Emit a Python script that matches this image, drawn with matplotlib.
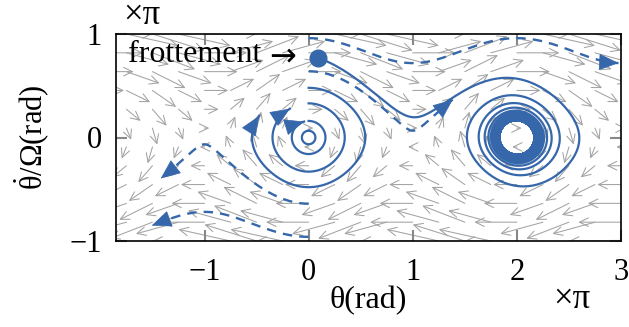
import numpy as np
import matplotlib.pyplot as plt
from matplotlib.patches import FancyArrowPatch

plt.rcParams['font.family'] = ['Liberation Serif', 'DejaVu Serif']
plt.rcParams['mathtext.fontset'] = 'custom'
plt.rcParams['mathtext.rm'] = 'Liberation Serif'
plt.rcParams['mathtext.it'] = 'Liberation Serif:italic'

BLUE = '#3567aa'
GRAY = '#a3a3a3'

# axes / ticks
x_ticks = [-1, 0, 1, 2, 3]
y_ticks = [-1, 0, 1]
x_range = [-1.85, 3.0]
y_range = [-1.0, 1.0]

# grid of the direction field (theta/pi, thetadot/(Omega pi))
field_x = np.linspace(-2, 3, 21)
field_y = np.linspace(-1, 1, 12)
field_scale = 0.5

# trajectory with friction (quadratic drag), starting at the dot
friction_start = [0.087, 0.77]
friction_k = 0.33
friction_step = 0.048
friction_time = 220

# closed orbits without friction (solid), start at theta = 0
closed_y0 = [0.48, 0.33, 0.16, 0.065]
closed_time = [6.4, 6.2, 6.1, 6.4]
closed_arrow = [True, True, True, False]

# open orbits without friction (dashed)
open_x0 = [0.0, 0.0, 0.0, 0.0]
open_y0 = [0.96, 0.64, -0.64, -0.96]
open_xend = [2.97, 1.38, -1.42, -1.5]


def accel(x, y):
    return -np.sin(np.pi * x) / np.pi


def rk4(x, y, h=0.01, tmax=None, xend=None):
    xs, ys = [x], [y]
    t = 0.0
    while True:
        k1x, k1y = y, accel(x, y)
        k2x, k2y = y + h/2*k1y, accel(x + h/2*k1x, y + h/2*k1y)
        k3x, k3y = y + h/2*k2y, accel(x + h/2*k2x, y + h/2*k2y)
        k4x, k4y = y + h*k3y, accel(x + h*k3x, y + h*k3y)
        x += h/6*(k1x + 2*k2x + 2*k3x + k4x)
        y += h/6*(k1y + 2*k2y + 2*k3y + k4y)
        t += h
        xs.append(x); ys.append(y)
        if tmax is not None and t >= tmax:
            break
        if xend is not None and (x - xend) * np.sign(y) >= 0:
            break
    return np.array(xs), np.array(ys)


def euler_drag(x, y, k, h, tmax):
    xs, ys = [x], [y]
    for i in range(int(tmax / h)):
        x, y = x + h*y, y + h*(accel(x, y) - k*y*abs(y))
        xs.append(x); ys.append(y)
    return np.array(xs), np.array(ys)


def head(ax, xs, ys, back=6):
    a = FancyArrowPatch((xs[-back], ys[-back]), (xs[-1], ys[-1]),
                        arrowstyle='-|>,head_length=1.3,head_width=0.55',
                        mutation_scale=10, color=BLUE, lw=0.5,
                        shrinkA=0, shrinkB=0, zorder=5)
    ax.add_patch(a)


fig = plt.figure(figsize=(6.29, 3.27), dpi=100)
ax = fig.add_axes([116/629, 1-241/327, 505/629, 207/327])

# direction field
for gx in field_x:
    for gy in field_y:
        u, v = gy, accel(gx, gy)
        if np.hypot(u, v) < 1e-3:
            continue
        a = FancyArrowPatch((gx, gy), (gx + field_scale*u, gy + field_scale*v),
                            arrowstyle='->,head_length=0.45,head_width=0.22',
                            mutation_scale=14, color=GRAY, lw=0.75,
                            shrinkA=0, shrinkB=0, zorder=1)
        ax.add_patch(a)

# closed orbits
for y0, T, arr in zip(closed_y0, closed_time, closed_arrow):
    xs, ys = rk4(0.0, y0, tmax=T)
    ax.plot(xs, ys, color=BLUE, lw=1.6, zorder=3)
    if arr:
        head(ax, xs, ys)

# open orbits
for x0, y0, xe in zip(open_x0, open_y0, open_xend):
    xs, ys = rk4(x0, y0, xend=xe)
    ax.plot(xs, ys, color=BLUE, lw=1.7, ls=(0, (4, 3)), zorder=3)
    head(ax, xs, ys)

# friction trajectory
xs, ys = euler_drag(friction_start[0], friction_start[1], friction_k,
                    friction_step, friction_time)
ax.plot(xs, ys, color=BLUE, lw=1.6, zorder=3)
ax.plot(friction_start[0], friction_start[1], 'o', color=BLUE, ms=12, zorder=6)
ax.text(friction_start[0] - 0.21, friction_start[1] + 0.01, '→',
        ha='right', va='center', fontsize=23, family=['DejaVu Sans'])
ax.text(friction_start[0] - 0.54, friction_start[1] + 0.03, 'frottement',
        ha='right', va='center', fontsize=23)

ax.set_xlim(x_range)
ax.set_ylim(y_range)
ax.set_xticks(x_ticks)
ax.set_yticks(y_ticks)
ax.tick_params(direction='in', length=8, width=1.5, color='#888888',
               top=True, right=True, labelsize=22)
ax.tick_params(axis='x', pad=12)
ax.tick_params(axis='y', pad=10)
for s in ax.spines.values():
    s.set_linewidth(1.2)

ax.set_xlabel('θ(rad)', fontsize=23)
ax.xaxis.set_label_coords(0.5, -0.215)
ax.set_ylabel(r'$\dot{\mathrm{\theta}}/\Omega$(rad)', fontsize=22, va='center')
ax.yaxis.set_label_coords(-0.165, 0.5)
fig.text(142/629, 1-15/327, '×π', fontsize=25, ha='center', va='center')
fig.text(572/629, 1-300/327, '×π', fontsize=25, ha='center', va='center')

fig.savefig('out.png', dpi=100)
